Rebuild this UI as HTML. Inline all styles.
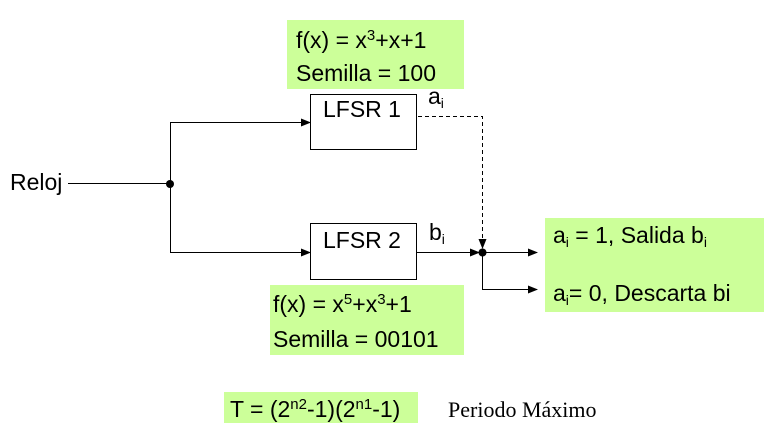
<!DOCTYPE html>
<html>
<head>
<meta charset="utf-8">
<style>
html,body{margin:0;padding:0;background:#fff;}
svg{display:block;}
text{font-family:"Liberation Sans",Arial,sans-serif;fill:#000;}
.serif{font-family:"Liberation Serif","Times New Roman",serif;}
</style>
</head>
<body>
<svg width="776" height="437" viewBox="0 0 776 437" xmlns="http://www.w3.org/2000/svg">
  <defs>
    <marker id="ah" markerWidth="10" markerHeight="8" refX="9" refY="4" orient="auto" markerUnits="userSpaceOnUse">
      <path d="M0,0 L10,4 L0,8 z" fill="#000"/>
    </marker>
  </defs>

  <!-- green boxes -->
  <rect x="287" y="20" width="177" height="69" fill="#ccff99"/>
  <rect x="270" y="285" width="194" height="70" fill="#ccff99"/>
  <rect x="545" y="218" width="219" height="94" fill="#ccff99"/>
  <rect x="224" y="392" width="194" height="31" fill="#ccff99"/>

  <!-- box 1 text -->
  <text x="296" y="48" font-size="23">f(x) = x<tspan font-size="15" dy="-8">3</tspan><tspan dy="8">+x+1</tspan></text>
  <text x="296" y="81" font-size="23">Semilla = 100</text>

  <!-- LFSR 1 -->
  <rect x="310.5" y="94.5" width="106" height="55" fill="#fff" stroke="#000" stroke-width="1"/>
  <text x="323" y="117" font-size="23">LFSR 1</text>
  <text x="428" y="104" font-size="23">a<tspan font-size="14" dy="4">i</tspan></text>

  <!-- dashed connector -->
  <path d="M418,116.5 H482.5 V248" fill="none" stroke="#000" stroke-width="1" stroke-dasharray="4,3" marker-end="url(#ah)"/>

  <!-- Reloj -->
  <text x="10" y="190" font-size="23">Reloj</text>
  <line x1="68" y1="183.5" x2="170" y2="183.5" stroke="#000" stroke-width="1"/>
  <circle cx="170" cy="184" r="4" fill="#000"/>
  <line x1="170.5" y1="122" x2="170.5" y2="253" stroke="#000" stroke-width="1"/>
  <line x1="170" y1="122.5" x2="310" y2="122.5" stroke="#000" stroke-width="1" marker-end="url(#ah)"/>
  <line x1="170" y1="252.5" x2="310" y2="252.5" stroke="#000" stroke-width="1" marker-end="url(#ah)"/>

  <!-- LFSR 2 -->
  <rect x="310.5" y="223.5" width="106" height="56" fill="#fff" stroke="#000" stroke-width="1"/>
  <text x="323" y="248" font-size="23">LFSR 2</text>
  <text x="429" y="240" font-size="23">b<tspan font-size="14" dy="4">i</tspan></text>

  <line x1="416" y1="252.5" x2="479" y2="252.5" stroke="#000" stroke-width="1" marker-end="url(#ah)"/>
  <circle cx="482.5" cy="252.5" r="4" fill="#000"/>
  <line x1="482" y1="252.5" x2="537" y2="252.5" stroke="#000" stroke-width="1" marker-end="url(#ah)"/>
  <path d="M482.5,252 V289.5 H537" fill="none" stroke="#000" stroke-width="1" marker-end="url(#ah)"/>

  <!-- box 3 text -->
  <text x="553" y="243" font-size="23">a<tspan font-size="14" dy="4">i</tspan><tspan dy="-4"> = 1, Salida b</tspan><tspan font-size="14" dy="4">i</tspan></text>
  <text x="553" y="301" font-size="23">a<tspan font-size="14" dy="4">i</tspan><tspan dy="-4">= 0, Descarta bi</tspan></text>

  <!-- box 2 text -->
  <text x="273" y="312" font-size="23">f(x) = x<tspan font-size="15" dy="-8">5</tspan><tspan dy="8">+x</tspan><tspan font-size="15" dy="-8">3</tspan><tspan dy="8">+1</tspan></text>
  <text x="273" y="347" font-size="23">Semilla = 00101</text>

  <!-- bottom formula -->
  <text x="230" y="417" font-size="23">T = (2<tspan font-size="15" dy="-8">n2</tspan><tspan dy="8">-1)(2</tspan><tspan font-size="15" dy="-8">n1</tspan><tspan dy="8">-1)</tspan></text>
  <text class="serif" x="448" y="417" font-size="22">Periodo Máximo</text>
</svg>
</body>
</html>
